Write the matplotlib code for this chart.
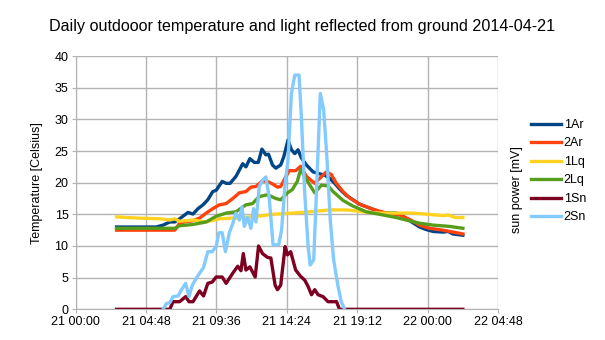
import matplotlib
matplotlib.use('Agg')
import matplotlib.pyplot as plt
from matplotlib.ticker import FuncFormatter, MultipleLocator

plt.rcParams['font.family'] = ['Liberation Sans', 'DejaVu Sans']
plt.rcParams['font.size'] = 9

# time in hours from 2014-04-21 00:00
t_1ar = [2.8, 5.5, 5.97, 6.43, 6.77, 7.10, 7.44, 7.67, 8.01, 8.35, 8.69, 9.02, 9.36, 9.59,
         10.0, 10.27, 10.54, 10.94, 11.40, 11.62, 11.89, 12.19, 12.46, 12.71, 12.98, 13.16,
         13.43, 13.66, 13.99, 14.2, 14.49, 14.72, 14.95, 15.17, 15.4, 15.74, 16.2, 16.65,
         16.99, 17.33, 17.67, 18.01, 18.46, 18.92, 19.37, 19.83, 20.28, 20.85, 21.41, 21.87,
         22.21, 22.78, 23.46, 23.91, 24.37, 25.05, 25.4, 25.73, 26.41]
v_1ar = [13.0, 13.0, 13.3, 13.8, 13.8, 14.3, 14.9, 15.3, 15.05, 15.9, 16.5, 17.3, 18.6, 18.8,
         20.2, 19.9, 19.9, 21.0, 23.0, 22.5, 23.8, 23.2, 23.2, 25.3, 24.4, 24.5,
         22.8, 22.3, 22.8, 24.1, 26.75, 25.2, 24.6, 25.2, 23.9, 22.8, 21.7, 21.4,
         21.2, 20.7, 19.9, 19.0, 18.0, 17.3, 16.6, 16.2, 15.8, 15.3, 15.2, 15.2,
         14.9, 14.0, 13.0, 12.6, 12.3, 12.2, 12.3, 11.9, 11.7]

t_2ar = [2.8, 6.77, 7.10, 7.44, 8.01, 8.46, 8.91, 9.36, 9.81, 10.27, 10.72, 11.17, 11.62,
         11.96, 12.30, 12.75, 13.09, 13.43, 13.77, 13.99, 14.33, 14.56, 15.01, 15.35, 15.74,
         16.31, 16.7, 17.1, 17.44, 17.78, 18.24, 18.69, 19.37, 20.28, 21.19, 22.1, 22.78,
         23.46, 24.14, 25.05, 25.73, 26.41]
v_2ar = [12.5, 12.5, 13.6, 13.8, 14.0, 14.4, 15.2, 15.9, 16.5, 16.7, 17.5, 18.4, 18.6,
         19.3, 19.4, 20.3, 20.2, 19.8, 19.3, 19.4, 20.9, 21.9, 21.9, 22.6, 21.0,
         19.9, 20.8, 21.7, 21.3, 19.9, 18.6, 17.6, 16.6, 15.8, 15.2, 14.9, 14.2,
         13.3, 12.8, 12.5, 12.2, 11.9]

t_1lq = [2.8, 3.49, 4.39, 5.75, 6.43, 6.77, 7.10, 8.01, 8.91, 9.81, 10.72, 12.07, 13.43,
         14.78, 16.0, 17.3, 18.5, 19.6, 20.7, 23.0, 24.1, 25.05, 25.4, 25.9, 26.41]
v_1lq = [14.6, 14.5, 14.4, 14.3, 14.1, 14.3, 13.9, 14.1, 13.8, 14.3, 14.4, 14.6, 15.0,
         15.2, 15.4, 15.7, 15.7, 15.4, 15.2, 15.2, 15.0, 14.8, 14.9, 14.5, 14.5]

t_2lq = [2.8, 6.77, 7.10, 8.01, 8.91, 9.59, 10.27, 10.94, 11.62, 12.07, 12.52, 13.09, 13.66,
         13.99, 14.45, 14.78, 15.12, 15.35, 15.74, 16.31, 16.76, 17.22, 17.56, 18.24, 18.92,
         19.83, 20.74, 21.87, 22.55, 23.46, 24.37, 25.5, 26.41]
v_2lq = [12.8, 12.8, 13.2, 13.4, 13.8, 14.7, 15.2, 15.4, 16.5, 16.7, 17.8, 18.1, 17.5,
         17.3, 18.4, 18.9, 20.2, 22.1, 20.5, 18.4, 19.6, 19.5, 18.6, 17.2, 16.3,
         15.4, 15.0, 14.5, 14.1, 13.6, 13.3, 13.1, 12.8]

t_1sn = [2.8, 6.43, 6.65, 7.10, 7.51, 7.74, 8.01, 8.46, 8.73, 9.02, 9.32, 9.59, 10.0, 10.27,
         10.72, 11.06, 11.28, 11.44, 11.62, 11.89, 12.25, 12.48, 12.75, 13.09, 13.32, 13.61,
         13.77, 13.99, 14.29, 14.45, 14.67, 15.01, 15.35, 15.63, 15.86, 16.09, 16.31, 16.54,
         16.88, 17.22, 17.8, 18.0, 26.41]
v_1sn = [0, 0, 1.2, 1.2, 2.0, 1.2, 1.2, 2.9, 2.1, 4.1, 4.3, 5.1, 5.1, 4.1,
         5.7, 6.8, 6.1, 8.8, 6.2, 6.7, 5.1, 10.0, 8.8, 8.2, 8.1, 3.8,
         3.1, 3.8, 9.9, 8.6, 9.1, 6.2, 5.2, 4.6, 3.6, 2.3, 3.1, 2.3,
         2.0, 1.2, 1.2, 0, 0]

t_2sn = [5.97, 6.2, 6.43, 6.65, 6.99, 7.22, 7.51, 7.74, 7.96, 8.23, 8.46, 8.73, 9.02, 9.32,
         9.59, 9.77, 10.0, 10.22, 10.49, 10.76, 10.94, 11.17, 11.35, 11.51, 11.73, 11.96,
         12.14, 12.30, 12.53, 12.75, 12.98, 13.20, 13.47, 13.85, 14.05, 14.3, 14.49, 14.72,
         14.95, 15.24, 15.4, 15.63, 15.86, 16.0, 16.24, 16.47, 16.69, 16.92, 17.15, 17.37,
         17.6, 17.9, 18.12, 18.35]
v_2sn = [0, 0.9, 1.05, 2.0, 2.1, 3.05, 4.1, 2.0, 3.8, 4.9, 5.7, 6.6, 9.1, 9.1,
         9.9, 12.1, 12.1, 9.1, 12.1, 13.8, 15.2, 14.1, 16.2, 13.1, 14.5, 12.8,
         15.9, 13.8, 19.4, 20.4, 20.9, 17.8, 10.2, 10.2, 12.5, 20.0, 23.6, 34.1,
         37.0, 37.0, 30.4, 18.3, 9.9, 7.0, 7.8, 21.0, 34.1, 31.5, 23.6, 14.1,
         7.8, 3.6, 1.2, 0]

names = ['1Ar', '2Ar', '1Lq', '2Lq', '1Sn', '2Sn']
colors = ['#004586', '#ff420e', '#ffd320', '#579d1c', '#7e0021', '#83caff']
series = [(t_1ar, v_1ar), (t_2ar, v_2ar), (t_1lq, v_1lq), (t_2lq, v_2lq),
          (t_1sn, v_1sn), (t_2sn, v_2sn)]


def fmt_time(h, pos):
    m = int(round(h * 60))
    return '%d %02d:%02d' % (21 + m // 1440, (m % 1440) // 60, m % 60)


fig = plt.figure(figsize=(6.05, 3.4), dpi=100)
ax = fig.add_axes([0.1248, 0.0903, 0.6982, 0.7447])

for name, c, (t, v) in zip(names, colors, series):
    ax.plot(t, v, color=c, lw=2.4, label=name, solid_joinstyle='round')

ax.set_xlim(0, 28.8)
ax.set_ylim(0, 40)
ax.xaxis.set_major_locator(MultipleLocator(4.8))
ax.xaxis.set_major_formatter(FuncFormatter(fmt_time))
ax.yaxis.set_major_locator(MultipleLocator(5))
ax.grid(True, color='#b3b3b3', lw=1)
ax.set_axisbelow(True)
for s in ['top', 'right']:
    ax.spines[s].set_visible(False)
for s in ['left', 'bottom']:
    ax.spines[s].set_color('#b3b3b3')
ax.tick_params(axis='both', color='#b3b3b3', length=3, labelsize=9, pad=2)
ax.set_ylabel('Temperature [Celsius]', fontsize=9, labelpad=8)

fig.text(0.5, 0.922, 'Daily outdooor temperature and light reflected from ground 2014-04-21',
         ha='center', va='center', fontsize=11.6)
fig.text(0.854, 0.441, 'sun power [mV]', rotation=90, ha='center', va='center', fontsize=9)

fig.legend(loc='upper left', bbox_to_anchor=(0.878, 0.65), frameon=False, fontsize=9,
           handlelength=2.4, handletextpad=0.2, labelspacing=0.52, borderpad=0,
           borderaxespad=0)

fig.savefig('out.png', dpi=100)
